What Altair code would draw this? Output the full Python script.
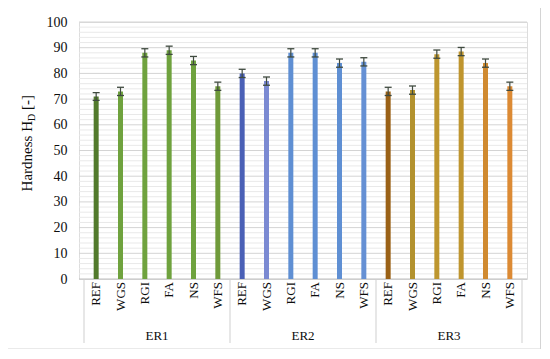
import altair as alt
import pandas as pd

# ---- data ----
groups = ["ER1", "ER2", "ER3"]
materials = ["REF", "WGS", "RGI", "FA", "NS", "WFS"]
er1_vals = [71, 73, 88, 89, 85, 75]
er2_vals = [80, 77, 88, 88, 84, 84.5]
er3_vals = [73, 73.5, 87.5, 88.5, 84, 75]
er1_err = [1.5, 1.6, 1.6, 1.6, 1.6, 1.6]
er2_err = [1.6, 1.6, 1.6, 1.6, 1.6, 1.6]
er3_err = [1.6, 1.6, 1.6, 1.6, 1.6, 1.6]
er1_colors = ["#527a2c", "#6fa23e", "#6fa23e", "#6fa23e", "#6fa23e", "#6f9a3a"]
er2_colors = ["#4a60b6", "#7b8ad2", "#5f8fd3", "#5f8fd3", "#5f8fd3", "#6590d4"]
er3_colors = ["#9a6116", "#b3922e", "#bd962f", "#bf952e", "#d08a30", "#dc8a34"]
y_ticks = [0, 10, 20, 30, 40, 50, 60, 70, 80, 90, 100]

vals = er1_vals + er2_vals + er3_vals
errs = er1_err + er2_err + er3_err
cols = er1_colors + er2_colors + er3_colors
rows = []
for gi, g in enumerate(groups):
    for mi, m in enumerate(materials):
        i = gi * len(materials) + mi
        rows.append({"idx": i, "group": g, "mat": m, "val": vals[i],
                     "lo": vals[i] - errs[i], "hi": vals[i] + errs[i], "col": cols[i]})
df = pd.DataFrame(rows)

grp_df = pd.DataFrame({"group": groups,
                       "center": [gi * 6 + 2.5 for gi in range(3)]})
bounds_df = pd.DataFrame({"b": [-0.5, 5.5, 11.5, 17.5]})
minor_df = pd.DataFrame({"v": [v for v in range(2, 100, 2) if v % 10 != 0]})
major_df = pd.DataFrame({"v": y_ticks[1:]})
one = pd.DataFrame({"a": [0]})

W, H = 448, 257
FONT = "Liberation Serif"
TXT = "#0d0d0d"
xscale = alt.Scale(domain=[-0.5, 17.5], nice=False, zero=False)
yscale = alt.Scale(domain=[0, 100], nice=False)
yaxis = alt.Axis(values=y_ticks, grid=False, labelOverlap=False, tickCount=11,
                 domain=False, ticks=False, labelPadding=12, labelFont=FONT,
                 labelFontSize=14, labelColor=TXT, title=None)


def Y(field):
    return alt.Y(field, scale=yscale, axis=yaxis)


frame = alt.Chart(one).mark_rect(filled=False, stroke="#d4d4d4", strokeWidth=1).encode(
    x=alt.value(-72), x2=alt.value(461.5), y=alt.value(-15), y2=alt.value(327))

minor = alt.Chart(minor_df).mark_rule(color="#e9e9e9", strokeWidth=1).encode(
    y=Y("v:Q"), x=alt.value(0), x2=alt.value(W))

major = alt.Chart(major_df).mark_rule(color="#d4d4d4", strokeWidth=1).encode(
    y=Y("v:Q"), x=alt.value(0), x2=alt.value(W))

xaxis_line = alt.Chart(one).mark_rule(color="#bfbfbf", strokeWidth=1).encode(
    y=alt.Y(datum=0, scale=yscale, axis=yaxis), x=alt.value(0), x2=alt.value(W))

bars = alt.Chart(df).mark_bar(size=5).encode(
    x=alt.X("idx:Q", scale=xscale, axis=None),
    y=Y("val:Q"),
    color=alt.Color("col:N", scale=None))

err_rule = alt.Chart(df).mark_rule(color="#3f4a3f", strokeWidth=1.2).encode(
    x=alt.X("idx:Q", scale=xscale, axis=None), y=Y("lo:Q"), y2="hi:Q")
cap_hi = alt.Chart(df).mark_tick(orient="horizontal", size=7, thickness=1.3,
                                 color="#3f4a3f", opacity=1).encode(
    x=alt.X("idx:Q", scale=xscale, axis=None), y=Y("hi:Q"))
cap_lo = alt.Chart(df).mark_tick(orient="horizontal", size=7, thickness=1.3,
                                 color="#3f4a3f", opacity=1).encode(
    x=alt.X("idx:Q", scale=xscale, axis=None), y=Y("lo:Q"))

seps = alt.Chart(bounds_df).mark_rule(color="#cfcfcf", strokeWidth=1).encode(
    x=alt.X("b:Q", scale=xscale, axis=None), y=alt.value(H), y2=alt.value(H + 64))

sub_labels = alt.Chart(df).mark_text(angle=270, align="right", baseline="middle",
                                     font=FONT, fontSize=13, color=TXT).encode(
    x=alt.X("idx:Q", scale=xscale, axis=None), y=alt.value(H + 3), text="mat:N")

grp_labels = alt.Chart(grp_df).mark_text(align="center", baseline="middle",
                                         font=FONT, fontSize=13, color=TXT).encode(
    x=alt.X("center:Q", scale=xscale, axis=None), y=alt.value(H + 57), text="group:N")

title_main = alt.Chart(one).mark_text(angle=270, align="right", baseline="alphabetic",
                                      font=FONT, fontSize=15, color=TXT).encode(
    x=alt.value(-47), y=alt.value(99), text=alt.value("Hardness H"))
title_sub = alt.Chart(one).mark_text(angle=270, align="left", baseline="alphabetic",
                                     font=FONT, fontSize=10, color=TXT).encode(
    x=alt.value(-44), y=alt.value(99), text=alt.value("D"))
title_end = alt.Chart(one).mark_text(angle=270, align="left", baseline="alphabetic",
                                     font=FONT, fontSize=15, color=TXT).encode(
    x=alt.value(-47), y=alt.value(88), text=alt.value("[-]"))

chart = alt.layer(
    frame, minor, major, xaxis_line, bars, err_rule, cap_hi, cap_lo, seps,
    sub_labels, grp_labels, title_main, title_sub, title_end
).properties(
    width=W, height=H,
    autosize=alt.AutoSizeParams(type="none"),
    padding={"left": 71, "top": 14, "right": 14, "bottom": 70},
).configure_view(stroke=None).configure(background="white")

chart.save("out.html", embed_options={"renderer": "svg", "actions": False})
